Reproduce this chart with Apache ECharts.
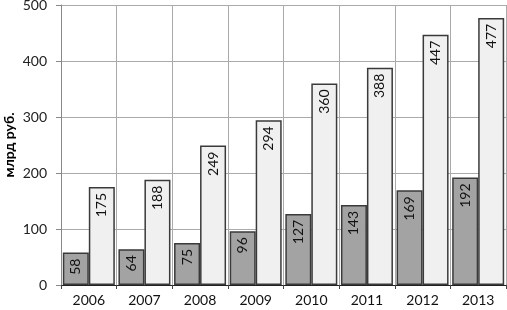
<!DOCTYPE html>
<html lang="ru">
<head>
    <meta charset="UTF-8">
    <title>Chart</title>
    <script src="https://cdn.jsdelivr.net/npm/echarts@6/dist/echarts.min.js"></script>
    <style>
        html, body { margin: 0; padding: 0; background: #fff; }
        #main { width: 507px; height: 310px; }
    </style>
</head>
<body>
    <div id="main"></div>
    <script type="text/javascript">
        const years = ['2006', '2007', '2008', '2009', '2010', '2011', '2012', '2013'];
        const darkValues = [58, 64, 75, 96, 127, 143, 169, 192];
        const lightValues = [175, 188, 249, 294, 360, 388, 447, 477];

        const font = 'Lato, "Open Sans", sans-serif';

        const labelStyle = {
            show: true,
            position: 'insideTop',
            rotate: 90,
            align: 'right',
            verticalAlign: 'middle',
            distance: 6,
            color: '#111',
            fontSize: 14,
            fontFamily: font
        };

        const option = {
            animation: false,
            grid: { left: 61, right: 1, top: 5, bottom: 25, outerBoundsMode: 'none' },
            xAxis: {
                type: 'category',
                data: years,
                axisLine: { lineStyle: { color: '#222', width: 1 } },
                axisTick: { show: true, length: 4, lineStyle: { color: '#444' } },
                axisLabel: { color: '#111', fontSize: 14, fontFamily: font, margin: 8 },
                splitLine: { show: true, lineStyle: { color: '#aaa', width: 1 } }
            },
            yAxis: {
                type: 'value',
                min: 0,
                max: 500,
                interval: 100,
                name: 'млрд руб.',
                nameLocation: 'middle',
                nameGap: 45,
                nameMoveOverlap: false,
                nameRotate: 90,
                nameTextStyle: { color: '#000', fontSize: 14, fontWeight: 'bold', fontFamily: font },
                axisLine: { show: true, lineStyle: { color: '#888' } },
                axisTick: { show: true, length: 5, lineStyle: { color: '#888' } },
                axisLabel: { color: '#222', fontSize: 14, fontFamily: font, margin: 14 },
                splitLine: { show: true, lineStyle: { color: '#aaa', width: 1 } }
            },
            series: [
                {
                    type: 'bar',
                    data: darkValues,
                    barWidth: 26,
                    barGap: '0%',
                    itemStyle: { color: '#a3a3a3', borderColor: '#3a3a3a', borderWidth: 1.5 },
                    label: labelStyle
                },
                {
                    type: 'bar',
                    data: lightValues,
                    barWidth: 26,
                    itemStyle: { color: '#f0f0f0', borderColor: '#3a3a3a', borderWidth: 1.5 },
                    label: labelStyle
                }
            ]
        };

        const myChart = echarts.init(document.getElementById('main'));
        myChart.setOption(option);
    </script>
</body>
</html>
